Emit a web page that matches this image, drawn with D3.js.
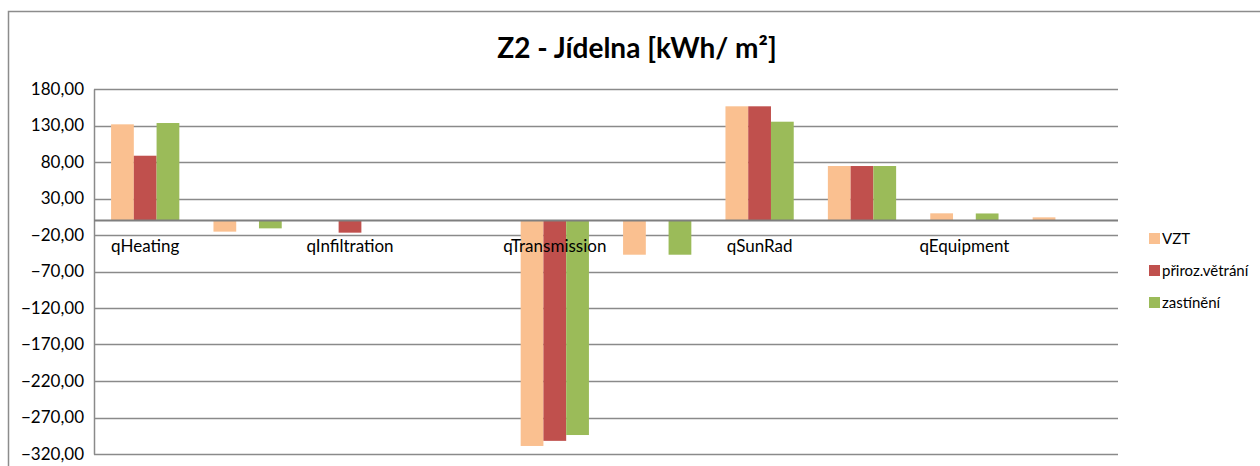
<!DOCTYPE html>
<html>
<head>
<meta charset="utf-8">
<script src="https://cdn.jsdelivr.net/npm/d3@7"></script>
<style>
  body { margin: 0; background: #fff; }
  svg { display: block; font-family: Lato, "Open Sans", sans-serif; }
</style>
</head>
<body>
<svg id="chart"></svg>
<script>
const categories = ["qHeating", "qCooling", "qInfiltration", "qVentilation", "qTransmission",
                    "qWindows", "qSunRad", "qOccupants", "qEquipment", "qLighting"];
const seriesNames = ["VZT", "přiroz.větrání", "zastínění"];
const vzt = [131.6, -15.4, 0, 0, -309, -47, 156.3, 74.5, 9.7, 4.2];
const prirozVetrani = [88.6, 0, -16.8, 0, -302, 0, 156.3, 74.5, 0, 0];
const zastineni = [133.4, -10.9, 0, 0, -294, -47, 135.2, 74.5, 9.5, 0];
const yTicks = [180, 130, 80, 30, -20, -70, -120, -170, -220, -270, -320];
const colors = ["#FAC090", "#C0504D", "#9BBB59"];

const W = 1260, H = 466;
const plot = { left: 94, right: 1118, top: 89, bottom: 454 };

const svg = d3.select("#chart").attr("width", W).attr("height", H);

// chart frame
svg.append("rect")
    .attr("x", 8.5).attr("y", 11.5)
    .attr("width", W + 20).attr("height", H + 20)
    .attr("fill", "none").attr("stroke", "#8c8c8c").attr("stroke-width", 1.5);

svg.append("text")
    .attr("x", 637).attr("y", 58)
    .attr("text-anchor", "middle")
    .style("font-size", "28px").style("font-weight", "bold")
    .text("Z2 - Jídelna [kWh/ m²]");

const x = d3.scaleBand().domain(categories).range([plot.left, plot.right]);
const xSub = d3.scaleBand().domain(seriesNames).range([0, x.bandwidth()])
    .paddingInner(0).paddingOuter(0.75);
const y = d3.scaleLinear().domain([-320, 180]).range([plot.bottom, plot.top]);

const locale = d3.formatLocale({ decimal: ",", thousands: " ", grouping: [3], currency: ["", ""] });
const fmt = locale.format(".2f");

// gridlines
svg.append("g")
    .selectAll("line")
    .data(yTicks)
    .join("line")
    .attr("x1", plot.left).attr("x2", plot.right)
    .attr("y1", d => Math.round(y(d)) + 0.5).attr("y2", d => Math.round(y(d)) + 0.5)
    .attr("stroke", "#8a8a8a").attr("stroke-width", 1.5);

// y axis
const yAxis = svg.append("g")
    .attr("transform", `translate(${plot.left},0)`)
    .call(d3.axisLeft(y).tickValues(yTicks).tickFormat(fmt).tickSize(0).tickPadding(10));
yAxis.select(".domain").attr("stroke", "#8a8a8a").attr("stroke-width", 1.5);
yAxis.selectAll("text").style("font-size", "17px").attr("fill", "#000")
    .style("font-family", "Lato, sans-serif");

// bars
const series = [vzt, prirozVetrani, zastineni];
series.forEach((vals, si) => {
    svg.append("g")
        .selectAll("rect")
        .data(vals.map((v, i) => ({ cat: categories[i], v })))
        .join("rect")
        .attr("x", d => x(d.cat) + xSub(seriesNames[si]))
        .attr("width", xSub.bandwidth())
        .attr("y", d => y(Math.max(0, d.v)))
        .attr("height", d => Math.abs(y(d.v) - y(0)))
        .attr("fill", colors[si]);
});

// zero axis line
svg.append("line")
    .attr("x1", plot.left).attr("x2", plot.right)
    .attr("y1", y(0)).attr("y2", y(0))
    .attr("stroke", "#7f7f7f").attr("stroke-width", 2);

// category labels (every other one shown)
const xAxis = svg.append("g")
    .attr("transform", `translate(0,${y(0)})`)
    .call(d3.axisBottom(x).tickSize(0).tickPadding(20).tickFormat((d, i) => i % 2 ? "" : d));
xAxis.select(".domain").remove();
xAxis.selectAll("text").style("font-size", "17px").attr("fill", "#000")
    .style("font-family", "Lato, sans-serif");

// legend
const legend = svg.append("g").attr("transform", "translate(1149,233)");
seriesNames.forEach((name, i) => {
    const g = legend.append("g").attr("transform", `translate(0,${i * 32})`);
    g.append("rect").attr("width", 11).attr("height", 11).attr("fill", colors[i]);
    g.append("text").attr("x", 13).attr("y", 6).attr("dy", "0.35em")
        .style("font-size", "15px").text(name);
});
</script>
</body>
</html>
